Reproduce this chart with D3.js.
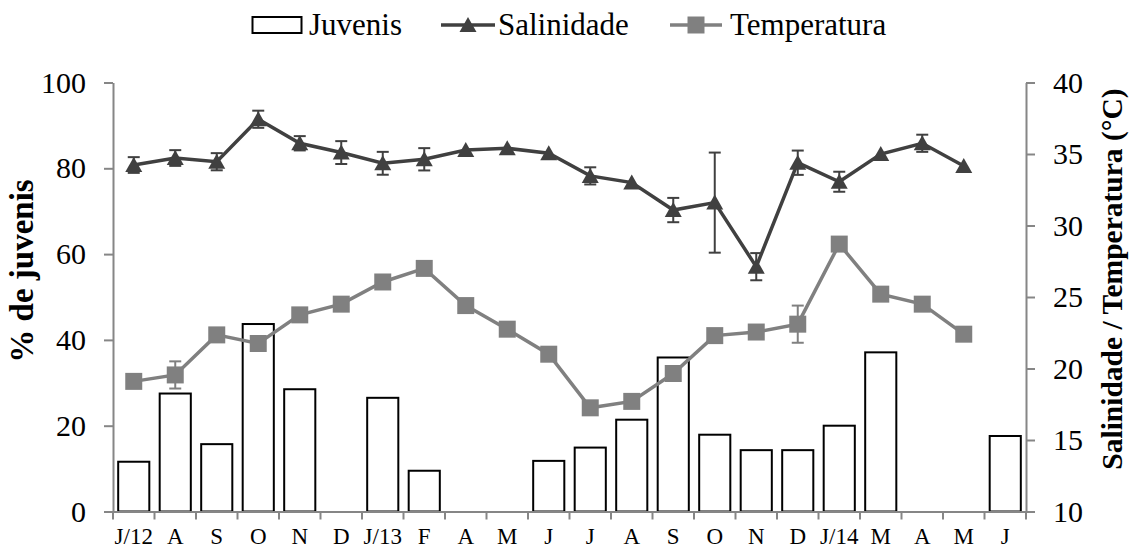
<!DOCTYPE html>
<html>
<head>
<meta charset="utf-8">
<script src="https://cdn.jsdelivr.net/npm/d3@7"></script>
<style>
  body { margin: 0; background: #fff; }
  svg text { font-family: "Liberation Serif", "Times New Roman", Times, "DejaVu Serif", serif; }
</style>
</head>
<body>
<svg id="chart" width="1129" height="549"></svg>
<script>
const months = ["J/12", "A", "S", "O", "N", "D", "J/13", "F", "A", "M", "J", "J", "A", "S", "O", "N", "D", "J/14", "M", "A", "M", "J"];
const juvenis = [11.6, 27.5, 15.7, 43.7, 28.5, 0, 26.5, 9.5, 0, 0, 11.8, 14.9, 21.4, 35.9, 17.9, 14.3, 14.3, 20.0, 37.1, 0, 0, 17.6];
const salinidade = [34.23, 34.72, 34.46, 37.43, 35.75, 35.1, 34.35, 34.63, 35.28, 35.4, 35.05, 33.47, 33.0, 31.08, 31.6, 27.12, 34.39, 33.06, 35.0, 35.75, 34.16, null];
const salErr = [0.55, 0.55, 0.6, 0.6, 0.5, 0.8, 0.8, 0.78, 0, 0, 0, 0.6, 0, 0.85, 3.5, 0.95, 0.85, 0.7, 0, 0.6, 0, 0];
const temperatura = [19.1, 19.55, 22.35, 21.75, 23.75, 24.5, 26.05, 27.0, 24.4, 22.75, 21.0, 17.25, 17.7, 19.65, 22.3, 22.55, 23.1, 28.7, 25.2, 24.5, 22.4, null];
const tempErr = [0, 0.95, 0, 0, 0, 0, 0, 0, 0, 0, 0, 0, 0, 0, 0, 0, 1.3, 0, 0, 0, 0, 0];
const leftTicks = [0, 20, 40, 60, 80, 100];
const rightTicks = [10, 15, 20, 25, 30, 35, 40];

const plot = { left: 113, right: 1026, top: 82.5, bottom: 511.5 };
const axisColor = "#868686";
const salColor = "#404040";
const tempColor = "#808080";

const svg = d3.select("#chart");

const x = d3.scaleBand()
  .domain(d3.range(months.length))
  .range([plot.left, plot.right])
  .paddingInner(0.25)
  .paddingOuter(0.125);
const xc = (i) => x(i) + x.bandwidth() / 2;
const step = x.step();

const yL = d3.scaleLinear().domain([0, 100]).range([plot.bottom, plot.top]);
const yR = d3.scaleLinear().domain([10, 40]).range([plot.bottom, plot.top]);

// bars
svg.append("g")
  .selectAll("rect")
  .data(juvenis.map((v, i) => ({ v, i })).filter((d) => d.v > 0))
  .join("rect")
  .attr("x", (d) => x(d.i))
  .attr("y", (d) => yL(d.v))
  .attr("width", x.bandwidth())
  .attr("height", (d) => yL(0) - yL(d.v))
  .attr("fill", "#fff")
  .attr("stroke", "#000")
  .attr("stroke-width", 2);

// x axis
const xAxis = svg.append("g")
  .attr("transform", `translate(0,${plot.bottom})`)
  .call(d3.axisBottom(x).tickSize(0).tickPadding(16.5).tickFormat((i) => months[i]));
xAxis.select(".domain").attr("stroke", axisColor).attr("stroke-width", 2);
xAxis.selectAll("text").attr("font-size", 23).attr("fill", "#000");

svg.append("g")
  .selectAll("line")
  .data(d3.range(months.length + 1))
  .join("line")
  .attr("x1", (i) => plot.left + i * step)
  .attr("x2", (i) => plot.left + i * step)
  .attr("y1", plot.bottom)
  .attr("y2", plot.bottom + 8)
  .attr("stroke", axisColor)
  .attr("stroke-width", 2);

// left axis
const leftAxis = svg.append("g")
  .attr("transform", `translate(${plot.left},0)`)
  .call(d3.axisLeft(yL).tickValues(leftTicks).tickSize(9).tickSizeOuter(0).tickPadding(18));
leftAxis.select(".domain").attr("stroke", axisColor).attr("stroke-width", 2);
leftAxis.selectAll(".tick line").attr("stroke", axisColor).attr("stroke-width", 2);
leftAxis.selectAll("text").attr("font-size", 30).attr("fill", "#000");

// right axis
const rightAxis = svg.append("g")
  .attr("transform", `translate(${plot.right},0)`)
  .call(d3.axisRight(yR).tickValues(rightTicks).tickSize(9).tickSizeOuter(0).tickPadding(18));
rightAxis.select(".domain").attr("stroke", axisColor).attr("stroke-width", 2);
rightAxis.selectAll(".tick line").attr("stroke", axisColor).attr("stroke-width", 2);
rightAxis.selectAll("text").attr("font-size", 30).attr("fill", "#000");

// axis titles
svg.append("text")
  .attr("transform", `translate(33,271) rotate(-90)`)
  .attr("text-anchor", "middle")
  .attr("font-size", 33)
  .attr("font-weight", "bold")
  .text("% de juvenis");

svg.append("text")
  .attr("transform", `translate(1122,279) rotate(-90)`)
  .attr("text-anchor", "middle")
  .attr("font-size", 29.5)
  .attr("font-weight", "bold")
  .text("Salinidade / Temperatura (°C)");

// line series helper
function drawSeries(values, errs, color, shape) {
  const pts = values.map((v, i) => ({ v, e: errs[i], i })).filter((d) => d.v != null);
  const g = svg.append("g");
  // error bars
  const eb = pts.filter((d) => d.e > 0);
  g.selectAll("line.err")
    .data(eb)
    .join("line")
    .attr("x1", (d) => xc(d.i)).attr("x2", (d) => xc(d.i))
    .attr("y1", (d) => yR(d.v - d.e)).attr("y2", (d) => yR(d.v + d.e))
    .attr("stroke", color).attr("stroke-width", 2);
  ["lo", "hi"].forEach((k) => {
    g.selectAll("line.cap" + k)
      .data(eb)
      .join("line")
      .attr("x1", (d) => xc(d.i) - 6).attr("x2", (d) => xc(d.i) + 6)
      .attr("y1", (d) => yR(k === "lo" ? d.v - d.e : d.v + d.e))
      .attr("y2", (d) => yR(k === "lo" ? d.v - d.e : d.v + d.e))
      .attr("stroke", color).attr("stroke-width", 2);
  });
  g.append("path")
    .datum(pts)
    .attr("d", d3.line().x((d) => xc(d.i)).y((d) => yR(d.v)))
    .attr("fill", "none")
    .attr("stroke", color)
    .attr("stroke-width", 3.5);
  g.selectAll("path.mk")
    .data(pts)
    .join("path")
    .attr("d", shape)
    .attr("transform", (d) => `translate(${xc(d.i)},${yR(d.v)})`)
    .attr("fill", color);
}

const triangle = "M0,-8L8.5,7L-8.5,7Z";
const square = "M-8.5,-8.5H8.5V8.5H-8.5Z";

drawSeries(temperatura, tempErr, tempColor, square);
drawSeries(salinidade, salErr, salColor, triangle);

// legend
const legend = svg.append("g").attr("font-size", 31);
legend.append("rect")
  .attr("x", 252.5).attr("y", 17).attr("width", 49).attr("height", 16)
  .attr("fill", "#fff").attr("stroke", "#000").attr("stroke-width", 2);
legend.append("text").attr("x", 309).attr("y", 35).text("Juvenis");

legend.append("line")
  .attr("x1", 441).attr("x2", 495).attr("y1", 25).attr("y2", 25)
  .attr("stroke", salColor).attr("stroke-width", 3.5);
legend.append("path").attr("d", triangle).attr("transform", "translate(468,25)").attr("fill", salColor);
legend.append("text").attr("x", 498).attr("y", 35).text("Salinidade");

legend.append("line")
  .attr("x1", 670).attr("x2", 722).attr("y1", 25).attr("y2", 25)
  .attr("stroke", tempColor).attr("stroke-width", 3.5);
legend.append("path").attr("d", square).attr("transform", "translate(696,25)").attr("fill", tempColor);
legend.append("text").attr("x", 730).attr("y", 35).text("Temperatura");
</script>
</body>
</html>
